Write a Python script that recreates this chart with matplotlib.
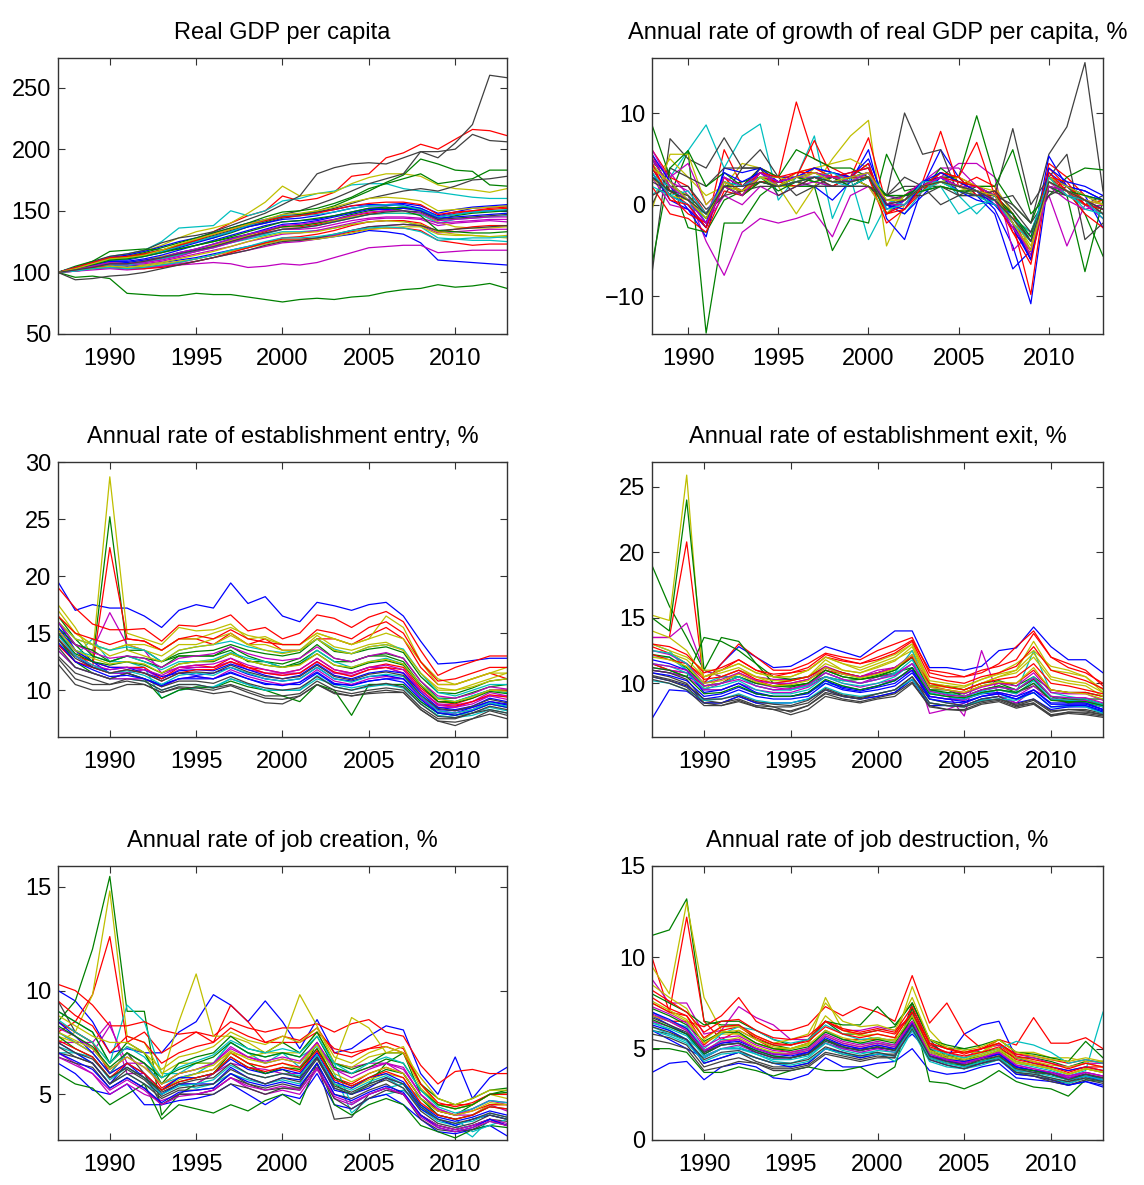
import numpy as np
import matplotlib
matplotlib.use("Agg")
import matplotlib.pyplot as plt
from matplotlib import font_manager

# --- DATA (one row per state) ---
years = list(range(1987, 2014))
years_growth = list(range(1988, 2014))

gdp_pc = [
    [100,102,104,106,105,106,108,110,112,115,118,121,124,126,126,127,129,131,134,133,131,124,110,109,108,107,106],
    [100,96,97,95,83,82,81,81,83,82,82,80,78,76,78,79,78,80,81,84,86,87,90,88,89,91,87],
    [100,103,107,111,112,115,118,122,127,133,140,146,150,162,158,160,165,178,180,193,197,204,200,208,216,215,211],
    [100,104,108,113,115,118,125,136,137,138,150,146,150,158,160,164,166,171,172,172,168,166,165,163,161,160,160],
    [100,101,103,104,103,104,105,106,107,108,107,104,105,107,106,108,112,116,120,121,122,122,116,117,118,118,118],
    [100,104,108,112,114,117,122,128,133,136,140,148,157,170,162,164,165,172,177,180,180,178,171,168,167,165,168],
    [100,104,109,113,115,118,124,128,130,133,138,143,148,155,162,180,185,188,189,188,193,198,193,205,220,260,258],
    [100,104,108,112,114,117,121,125,128,132,136,140,143,146,147,149,151,154,155,155,156,154,148,151,153,154,155],
    [100,104,107,110,111,114,117,121,125,128,132,137,141,145,147,150,154,160,166,173,179,192,188,183,182,171,170],
    [100,102,105,107,106,108,111,114,117,121,125,129,133,137,137,139,142,146,148,150,152,151,145,148,150,151,152],
    [100,103,105,107,107,109,112,115,118,121,124,127,130,133,133,134,136,139,141,142,142,137,128,127,126,126,125],
    [100,102,104,106,106,107,109,112,115,118,121,125,128,131,132,134,137,140,143,144,144,143,138,140,141,142,141],
    [100,103,105,108,108,110,113,116,119,122,126,130,134,137,138,140,142,145,147,148,148,147,141,137,136,136,137],
    [100,103,106,110,112,115,118,122,126,130,134,138,142,147,150,155,160,166,172,176,180,198,198,200,212,207,206],
    [100,103,106,109,109,111,114,118,122,126,130,134,138,141,142,143,146,149,152,152,153,152,145,147,149,150,150],
    [100,103,107,111,113,116,120,124,128,132,136,140,145,149,150,152,156,161,168,172,176,180,172,174,176,183,183],
    [100,101,103,104,103,104,106,108,111,114,117,120,124,127,127,128,130,133,135,136,136,134,126,124,122,123,123],
    [100,102,104,106,106,108,111,114,117,120,124,128,131,135,136,138,141,144,147,148,148,147,140,143,144,145,146],
    [100,101,102,103,102,103,105,107,109,112,115,118,121,124,125,127,130,134,137,138,139,138,132,133,134,135,135],
    [100,102,103,105,104,105,107,109,111,114,117,120,123,126,126,127,129,132,135,136,137,137,131,130,130,129,130],
    [100,104,107,110,111,114,117,121,125,129,133,137,140,144,146,149,152,156,160,163,166,168,166,170,175,176,178],
    [100,103,107,110,110,113,116,120,124,128,133,137,140,143,144,146,149,152,154,154,155,152,146,149,152,153,154],
    [100,105,109,117,118,119,118,119,122,125,128,131,134,137,138,140,143,147,150,152,153,150,143,146,148,149,150],
    [100,102,104,105,103,103,104,106,109,112,116,120,124,128,129,131,134,138,141,142,142,140,133,135,137,138,138],
    [100,104,107,110,111,113,117,121,125,129,133,138,142,146,146,147,149,152,154,155,154,151,145,147,149,150,151],
    [100,103,105,107,107,108,110,113,117,120,124,128,132,135,135,136,139,142,144,145,145,144,140,141,142,143,143],
    [100,102,103,105,104,106,108,111,114,117,121,125,129,132,132,133,136,139,141,142,141,139,133,131,130,129,128],
    [100,94,95,97,98,100,103,106,109,112,115,118,122,125,126,128,131,134,137,138,139,138,134,135,136,137,138],
    [100,104,106,109,108,110,112,116,119,123,127,131,135,139,140,142,145,148,151,151,152,150,144,145,146,147,148],
    [100,103,106,110,111,113,116,119,122,125,129,133,137,141,142,144,146,149,152,153,150,146,134,133,132,132,133],
    [100,104,108,112,113,115,118,122,126,131,135,139,142,145,146,148,151,154,156,157,157,155,147,149,150,152,153],
    [100,101,103,104,103,104,106,108,111,114,118,121,125,128,128,129,131,134,136,137,136,133,126,127,128,128,129],
    [100,102,105,108,107,109,112,116,119,123,127,131,134,138,139,141,143,146,149,150,150,148,142,143,144,145,145],
    [100,103,107,111,112,114,118,123,127,131,135,139,143,147,148,150,153,157,160,161,160,158,150,151,152,153,154],
    [100,102,104,107,107,109,112,115,118,121,125,129,132,135,136,138,141,144,147,149,150,149,143,144,145,146,147],
]

gdp_growth = [
    [4.5,1.5,0.5,-1.5,2.5,1.5,3.5,2,3,3.5,2.5,3,4.5,-1,0.5,2,3,2,1.5,-0.5,-4.5,-10.8,3,2,1,0.5],
    [3.5,1,5.9,-14,-2,-2,1,2.5,3,2.5,2,3,2,0,1,2,2.5,1.5,1,0,-1.5,-3,2,1.5,-1,-5.6],
    [5.5,1.5,0,-2.5,6,2,4,3,11.2,5,4,3,3.5,-1,0.5,2.5,3,3,2,1,-2,-9.8,4,2,0.5,-1],
    [1,3,5.9,8.7,4,7.5,8.8,0.5,3,7.5,-1.5,3,-3.8,0,1,2,3,1,-1,1,-1,-4,3,1,0.5,-1],
    [4.5,3.5,1,-4,-7.7,-3,-1.5,-2,-1.5,-0.8,-3.5,1,2,-1,0.5,1.5,3,4.5,4.5,3,-5,-3,1,-4.5,0,-1.5],
    [2.5,5,3,1,2,4.5,4,2,-1,2,5,7.5,9.2,-4.5,0,2,3,2,1,1,-1,-5,2,1,0,-0.5],
    [-7.5,7.2,5,4,7.3,4,4,2,2,2,2,3,2,1,2,2,2,1,1,0.5,1,-2,5.5,8.5,15.5,1.5],
    [5,2,-0.5,-3.5,4,3.5,4,2,2,2,0.5,2.5,6,-1.5,-3.8,2,6,3,1,-1,-7,-5,5.3,2,1,-2.5],
    [8.7,3,-2.5,-3,0.5,1.5,2.5,2,2,2,-5,-1.5,-2,5.5,1.5,2,3,3,9.7,3,0,-2,3,1,-7.3,0.5],
    [6,3,2,-1,2,1,3.5,3,3,7,3,3,7.3,0,1,2.5,8,2,3,2,-3,-5,4.5,3,1,0],
    [4,1,0,-1,2.5,1.5,3,2.5,3,3.5,3,3,3,0,-1,1.5,3,2.5,2,1,-1.5,-3.5,3,2,1,0],
    [5,3,4.5,0,2,1,4,2,3,3.5,3,2,3,0,1,2.5,4,4,2,0,-2,-6,2,1,0,-1],
    [-0.5,5.5,5.5,0,2,1,4,2,2,4,4.5,5,4,0,0,1.5,2,1.5,2,2,-1,-4,3,1,0,0.5],
    [0,4,3,2,4,4,6,3,1,2,3,2,2,1,3,2,0,1,1,1,8.3,0,3,5.5,-3.8,-2],
    [4,1,0,-2.5,3,2,3,3,3,4,3.5,3,5,0,-1,1,3,1.5,0.5,0,-1,-4,3,2,1.5,0.5],
    [-6.5,4,5.9,2,3.5,2,4,3,6,5,4,4,3,-1,1,1.5,4,2.5,2,2,6,-1,1,3,4,3.8],
    [2,-1,-1.5,-3,1.5,1,2.5,2.5,2,3,2,3,3,-2,-0.5,1.5,3.5,3,6.8,1,-1,-6,3,1.5,-1,-2.5],
    [3,2,1,-2,2,1,3,2,2.5,3,2.5,2.5,3.5,1,0.5,1.5,2,-1,0,0.5,-2,-5,2,1,0,-0.5],
    [3,0,-0.5,-2,1,0,2,1,2,2.5,2,2,3,1,0.5,2,3,2,1.5,1,-1,-4,2,0.5,-0.5,0],
    [3,1,0.5,-1.5,2,1.5,3,2,3.5,4,3,3,2,-1,1,1.5,2.5,3,2,1.5,-2,-5.5,2.5,1.5,0.5,-1],
    [1,2,2,-0.5,1,4,4,1,2,3,2,2,3,1,10,5.5,6,1,2,1,0,-2,1,2,0,1],
    [3.5,0.5,-0.5,-2.5,2.5,1.5,4,2.5,3,3.5,3,3.5,4,-0.5,0.5,2.5,3,2,1.5,0,-2.5,-6,3.5,2,1.5,0.5],
    [5,2,1,-1,2,2.5,3,1.5,2.5,3,3,2,3,1,1,2,3.5,2.5,1.5,1,-1,-4,2,1,0.5,-0.5],
    [4,1,-1,-2,3,1,3,2.5,3.5,4,3,3,4.5,-1,0,2,3.5,3,1,1.5,-2,-5,3,2.5,0,0.5],
    [2,1,0,-1.5,2,1.5,3,2,3,3,2.5,2,3,0.5,0,1.5,2.5,1.5,1,0,-1.5,-3,2.5,1.5,-0.5,-1],
    [6,2.5,1.5,-1,3,2,3.5,2,3,3,3,3,3.5,0,0,2,3,2,2,1,-2,-5.5,2.5,1,0.5,0],
    [4.5,2,1,-1,2,1.5,3,3,2.5,3.5,3,2.5,3,0.5,0.5,2,2.5,2,1.5,0.5,-1.5,-4.5,3,2,1,0],
    [2.5,1.5,1,-1,1,1.5,2,2,2.5,2,2,2,2,0.5,1,1,2,1.5,1,1.5,-0.5,-3,1.5,1,0.5,-1],
    [5.5,2.5,0.5,-2,3.5,2.5,3.5,2.5,3,4,3.5,3,3.5,0,-0.5,2.5,3.5,2.5,1.5,1,-2,-6,4,2.5,2,1],
    [3,1.5,0.5,-1.5,2,1,2.5,2,3,2.5,3,2.5,3,1,1,1.5,2,1.5,1.5,0.5,-1,-3.5,2,1.5,1,0.5],
    [4.5,0.5,0,-2.5,2.5,1.5,3.5,3,3.5,3.5,3,3.5,4,-1,-0.5,2,3,2.5,2,0.5,-3,-6.5,3.5,1.5,0,-0.5],
    [3.5,1,1.5,-1,2.5,2,3,2,2.5,3,3.5,2.5,3.5,-0.5,0,2.5,2.5,2,1.5,0.5,-2,-4,3,1,0.5,-1.5],
    [5,2,0.5,-2,2,1,3.5,2.5,3,3.5,3,2.5,3.5,0,0.5,2,3,2,1.5,0.5,-2.5,-5,2,1.5,0.5,-0.5],
    [4,2.5,0.5,-1.5,2.5,1.5,3,2,3,3.5,2.5,3,3.5,0.5,0.5,2,2.5,2,1.5,1,-2,-5,2.5,1.5,0.5,0],
    [3,1.5,0.5,-1,2,2,2.5,2,2.5,3,2.5,2.5,3,0,0.5,2,2.5,2,1.5,0.5,-1.5,-4,2.5,1.5,0.5,-0.5],
]

entry_rate = [
    [19.5,17,17.5,17.2,17.2,16.5,15.5,17,17.5,17.2,19.4,17.6,18.2,16.5,16,17.7,17.4,17,17.5,17.7,16.5,14.3,12.3,12.4,12.6,12.8,12.8],
    [16,14,12.5,25.2,13.5,13.5,12.5,13,13,13,13.5,12.5,12.5,12,12.5,13.5,12.5,12.5,13,13,12.5,10.5,9,9,9.5,10,10],
    [15,13.5,12,22.5,14.5,14.3,13.5,14.5,14.5,14,15,14,14.5,13.5,13.5,14.5,14.5,14,14.8,15.5,14.5,12,10.5,10.5,11,11.5,11],
    [14,13,14.5,12.5,12.5,12,9.3,10,10.2,10.3,11,10.5,10,10,10,11,10.5,10.2,10.5,10.5,10.5,9,8,7.8,8,8.5,8.2],
    [15,14,13.5,16.8,14,13.5,11.5,12,12,12,12.5,12,11.5,11.5,11.5,12.5,11.5,11.5,12,12,11.5,9.5,8.5,8.5,9,9.5,9.5],
    [17.5,15.5,13,28.7,15,14.5,14,15.5,15.2,15.3,15.8,14.5,14.7,14,14,15,14.5,14,14.5,16.5,15.5,12.5,11,10.5,11,11.5,12],
    [12.3,10.5,10,10,10.5,10.5,9.8,10.2,10,9.7,9.9,9.4,8.9,8.8,9.5,10.5,9.8,9.5,9.7,9.8,9.8,8.3,7.3,6.9,7.5,7.9,7.5],
    [16,13.5,12.5,11.5,11.5,11,10.5,11,11,11,11.5,11,10.5,10.5,10.5,11.5,10.5,10.5,10.8,11,11,9.5,8,8,8.5,9,8.8],
    [14.5,12.5,11.5,11,11.5,11,9.3,10,10.3,10.2,10.8,10.3,10,9.5,9,10.5,10,7.8,10.5,10.5,10.5,9,8,7.8,8.2,8.8,8.5],
    [19,17.2,15.8,15.3,15.3,15.4,14.3,15.7,15.6,16,16.6,15.2,15.5,14.5,15,16.6,16.3,15.5,16.4,16.9,16,13.5,11.3,12,12.5,13,13],
    [13.5,12,11.5,11,11,10.8,10,10.5,10.5,10.2,11,10.5,10,10,10,11.3,10.3,10,10.3,10.5,10.2,8.8,7.8,7.6,7.8,8.3,8],
    [14,12.5,12,11.5,11.5,11.8,11,11.8,12,12,12.5,11.8,11.5,11.3,11.5,12.5,11.5,11.3,11.8,12,11.5,10,8.8,8.7,9,9.8,9.5],
    [16.5,15,14,13.5,14,13.5,13,14,14,14.5,15,14,14,13.5,13.5,14.8,13.8,13.5,14,14.2,13.5,11.5,10,10,10.5,11,11.5],
    [13,11.5,11,10.5,11,10.8,10,10.5,10.5,10.2,10.5,10,9.5,9.5,9.7,10.8,10,9.7,10,10.2,10,8.5,7.5,7.5,8,8.3,8],
    [15,13,12,11.8,12,11.5,11,11.7,11.8,11.7,12.3,11.8,11.3,11,11.3,12.3,11.3,11,11.5,11.7,11.5,9.8,8.5,8.3,8.6,9.3,9],
    [15.5,14,13.5,12.5,13,12.5,12,13,13,13,13.8,13,12.5,12.3,12.8,14,12.8,12.5,13,13.2,12.8,10.8,9.3,9.3,9.8,10.3,10.5],
    [14.5,13,12.5,12,12,12,11,12,12.2,12,12.8,12,11.8,11.5,11.8,12.8,11.8,11.5,12,12.3,12,10.2,9,8.8,9.3,10,10],
    [15,13.5,13,12.5,13,12.5,11.8,12.5,12.5,12.7,13.3,12.8,12.5,12,12.3,13.5,12.5,12,12.5,12.8,12.3,10.5,9.3,9,9.5,10,9.8],
    [13.5,12,11.5,11,11,11,10.3,11,11.2,11,11.8,11.2,10.8,10.5,10.7,11.8,10.8,10.5,11,11.2,11,9.3,8.2,8,8.3,9,8.7],
    [17,15,14,13.5,14,14,13.5,14.5,14.5,15,15.5,14.8,14.5,14,14,15,14.5,14,14.5,15,14.5,12.5,10.5,10.5,11,11.5,11.5],
    [12.8,11,10.5,10.5,10.8,10.5,9.8,10.3,10.2,10,10.4,9.8,9.3,9.2,9.5,10.5,9.7,9.5,9.8,10,9.8,8.3,7.3,7.2,7.5,8.2,7.8],
    [15.5,13.5,12.5,12,12,11.8,11.2,11.5,11.3,11.5,12,11.4,11,10.8,11,12,11,10.8,11.2,11.3,11,9.5,8.3,8.2,8.5,9,8.7],
    [16.5,14.5,13,12.5,13,12.8,12.5,13.2,13.4,13.5,14,13.5,13.2,13,13.3,14.5,13.4,13.2,13.6,13.8,13.3,11.2,9.8,9.7,10.2,10.8,11],
    [14,12.5,12,11.5,11.8,11.5,10.8,11.5,11.8,11.8,12.5,12,11.5,11.3,11.5,12.5,11.6,11.2,11.8,12,11.8,10,8.7,8.6,9,9.6,9.4],
    [16,14.5,14,13.5,13.8,13.5,12.5,13.5,13.8,14,14.3,13.8,13.5,13.3,13.5,14.5,13.6,13.2,13.8,14,13.6,11.5,9.8,9.5,10,10.5,10.5],
    [15,13,12.2,11.8,12,11.8,11.3,12,12.2,12.3,12.8,12.2,11.8,11.5,11.8,12.8,11.8,11.5,12,12.2,11.8,10,8.7,8.5,8.8,9.5,9.2],
    [16,14.5,14,13,13.5,13,12.5,13.5,13.8,14,14.8,14,13.5,13.2,13.5,14.5,13.5,13.2,13.8,14,13.5,11.5,10.2,10,10.3,10.8,11],
    [13.8,12,11.5,11,11.5,11,10.3,10.8,10.8,10.6,11.2,10.6,10.2,10,10.2,11.2,10.3,10,10.4,10.6,10.3,8.8,7.7,7.6,8,8.6,8.3],
    [14.2,12.5,11.8,11.2,11.3,11,10.4,11,11.2,11,11.6,11,10.6,10.4,10.7,11.6,10.6,10.4,10.8,11,10.7,9.2,8,7.8,8.2,8.8,8.5],
    [15,13.2,12.5,12.2,12.5,12.2,11.5,12.3,12.5,12.5,13.2,12.6,12.2,12,12.3,13.2,12.2,11.9,12.4,12.6,12.2,10.4,9,8.9,9.3,9.9,9.7],
    [16.5,15,14.5,14,14.5,14.3,13.5,14.5,14.8,14.5,15.3,14.5,14.2,14,14,15.3,15,14.5,15.5,16,15,12.5,10.8,11,11.5,12,12],
    [14.8,13,12.2,11.5,11.7,11.3,10.5,11.3,11.5,11.3,12,11.5,11,10.8,11,12,11,10.7,11.2,11.4,11.2,9.5,8.2,8,8.3,8.9,8.6],
    [16,14,13.3,12.8,13,12.8,12,12.8,13,13.2,13.8,13.2,12.8,12.6,12.8,13.8,12.8,12.5,13,13.3,12.8,10.8,9.5,9.3,9.7,10.3,10.1],
    [15.3,13.5,12.8,12.3,12.5,12.3,11.5,12.3,12.5,12.6,13.2,12.6,12.2,12,12.2,13.2,12.2,12,12.5,12.7,12.3,10.5,9.2,9,9.4,10,9.9],
    [14.5,12.8,12,11.5,11.8,11.5,10.8,11.5,11.6,11.5,12.2,11.6,11.2,11,11.2,12.2,11.2,10.9,11.4,11.6,11.3,9.6,8.4,8.2,8.6,9.2,8.9],
]

exit_rate = [
    [11,10.8,10.5,10,11.5,12.8,12,11.2,11.3,12,12.8,12.4,12,13,14,14,11.2,11.2,11,11.3,12.5,12.7,14.3,12.8,11.8,11.8,10.8],
    [19,15.9,13.5,11,10.5,10.5,10,9.8,9.8,10,10.5,10.2,10.3,10.5,10.8,11.2,9.5,9.5,9,9.5,9.8,9.3,9.8,8.8,8.6,8.5,8.2],
    [13.5,13.5,20.8,10,11.5,13,12,11,11,11.5,12.3,12,11.8,12.5,13,13.5,10.8,10.5,10.5,10.8,11.5,12.8,14,12,11.2,10.8,10],
    [12,12,11,9.5,9.5,10,9.2,9,9,9.3,10,9.8,9.5,9.8,10.3,11,8.8,8.5,8.3,8.8,9,8.8,9.3,8.2,8.2,8.3,7.8],
    [13.5,13.5,14.6,11,10.5,11,10.5,10.3,10.3,10.5,11.3,10.8,10.5,11,11.2,12,7.7,8,8.5,9,9.3,9,9.8,8.8,8.7,8.7,8.3],
    [15.2,14.8,25.9,9.5,10.5,11,10.5,10,10.2,10.5,11.8,11,10.8,11.3,11.8,12.5,10,9.8,9.5,10,10.5,11,13.2,11,10.8,10.5,9.3],
    [10.8,10.5,10,8.5,8.5,9,8.5,8.2,7.8,8.3,9.3,9,8.8,9,9.3,10.3,8.5,8.3,8.2,8.7,8.8,8.3,8.5,7.5,7.8,7.8,7.6],
    [7.3,9.5,9.4,8.5,8.5,9,8.5,8.5,8.5,8.8,9.5,9,8.8,9,9.3,10.3,8.3,8.3,8.3,8.8,9,8.5,8.8,8,8.2,8.2,7.8],
    [15,14,24,11,13.5,13.2,11.5,10.5,10.3,10.5,11.2,10.8,10.5,10.8,11.2,12,9.8,9.8,9.5,10,10.2,9.8,10.5,9.5,9.3,9.3,9],
    [12.8,12.3,11.5,10.5,11,11.8,11,10.5,10.8,11,12,11.7,11.5,12,12.5,13.3,11,10.8,10.5,11,11.3,11.8,13.8,12,11.5,11,9.8],
    [13,12.5,11,10,10.5,10.5,9.8,9.5,9.5,9.8,10.5,10.2,10,10.3,10.8,12.5,9.3,9,8.8,9.3,9.5,9.3,12.5,9.3,9,8.8,8.3],
    [11,10.8,10.5,9.5,10,10.5,10,9.7,9.5,10,10.8,10.3,10,10.5,10.7,11.5,9.5,9.2,7.5,12.5,9,8.5,9.5,8.8,8.5,8.5,8],
    [13,12.5,12,11,11,11.5,10.8,10.5,10.5,11,12,11.5,11,11.5,12,13,10,9.8,9.7,10.3,10.8,11.5,12.5,11.3,11,10.5,9.5],
    [11,10.8,10.3,8.7,8.5,8.8,8.3,8.2,8.2,8.5,9.5,9,8.8,9.2,9.5,10.5,8.8,8.5,8.3,8.8,9,8.3,8.7,7.8,8,8,7.7],
    [10.5,10.2,9.8,8.8,9,9.5,9,8.8,8.8,9,10,9.5,9.3,9.5,9.8,10.8,9,8.8,8.8,9.2,9.3,9,9.5,8.5,8.5,8.5,8],
    [11.5,11,10.5,13.5,13.2,12.5,11.5,10,9.8,10,11,10.5,10.3,10.5,11,12,9.5,9.3,9.2,9.8,10,9.5,10.3,9,8.5,8.8,8.8],
    [11.5,11,10.8,9.8,10,10.8,10.2,9.8,10,10.3,11,10.7,10.5,10.8,11.2,12,9.8,9.5,9.3,9.8,10,10,11,9.5,9.3,9.3,9],
    [10.2,10,9.5,8.7,8.8,9.2,8.7,8.5,8.5,8.8,9.7,9.2,9,9.2,9.5,10.3,8.5,8.3,8.2,8.7,8.8,8.7,9.3,8.2,8.3,8.2,7.7],
    [11.2,11,10.8,9.5,9.5,10,9.5,9.3,9.3,9.7,10.5,10,9.7,10,10.3,11,9,8.8,8.7,9.3,9.5,9.2,10,8.8,8.8,8.7,8.2],
    [12.5,12.3,11.8,10.5,10.8,11.2,10.5,10.2,10.2,10.5,11.5,11,10.8,11.2,11.7,12.8,9.8,9.7,9.5,10,10.5,10.8,12,10.3,10,9.8,9],
    [10.5,10.2,9.7,8.5,8.3,8.7,8.2,8,7.6,8,9,8.7,8.5,8.8,9,10,8.3,8,8,8.5,8.7,8.2,8.5,7.6,7.8,7.7,7.5],
    [11.8,11.5,11,9.3,9.5,10,9.3,9,9,9.3,10.2,9.7,9.5,9.8,10.2,11.2,9,8.8,8.6,9,9.2,8.8,9.5,8.4,8.4,8.4,8],
    [12.2,12,11.2,9.8,10,10.5,10,9.8,9.7,10,11,10.5,10.3,10.6,11,12,9.5,9.2,9,9.5,9.8,9.5,10.3,9,8.8,8.8,8.4],
    [12.2,11.8,11.5,10.3,10.5,11,10.3,10,10.2,10.5,11.2,10.8,10.5,10.8,11.2,12,10,9.7,9.5,10,10.3,10.5,11.5,10,9.8,9.5,9.2],
    [11.5,11.3,10.8,9.6,9.8,10.2,9.5,9.2,9.2,9.5,10.5,10,9.8,10,10.5,11.5,9.2,9,8.8,9.2,9.5,9.2,10.2,8.8,8.7,8.6,8.2],
    [12.5,12.2,11.5,10,10.3,10.8,10.2,10,10,10.3,11.2,10.7,10.5,10.8,11.2,12.2,9.7,9.5,9.2,9.7,10,9.8,10.8,9.3,9.2,9.2,8.7],
    [14,13.5,12.5,10.5,11,11.5,10.8,10.5,10.5,11,12,11.5,11.2,11.7,12.2,13,10.2,10,9.8,10.3,10.7,11,12.3,10.5,10.2,10,9.3],
    [10.3,10,9.5,8.3,8.3,8.6,8.2,8,7.9,8.3,9.2,8.8,8.6,8.9,9.2,10.1,8.2,8,7.9,8.4,8.6,8.1,8.4,7.5,7.7,7.6,7.4],
    [10.8,10.6,10.2,9,9.2,9.7,9.2,9,9,9.2,10.2,9.6,9.4,9.7,10,11,8.8,8.6,8.5,9,9.2,8.8,9.3,8.2,8.3,8.3,7.9],
    [11.2,11,10.5,9.2,9.3,9.8,9.2,9,9,9.3,10.3,9.8,9.5,9.8,10.2,11.2,9.2,9,8.9,9.3,9.5,9.3,10,8.7,8.6,8.6,8.3],
    [13,12.8,12.2,10.8,11.2,11.8,11,10.7,10.8,11.2,12.2,11.8,11.5,11.8,12.3,13.2,10.5,10.2,10,10.5,10.8,11.3,12.8,11,10.6,10.2,9.6],
    [12.5,12.3,11.5,9.8,10,10.5,9.8,9.5,9.5,9.8,10.8,10.3,10,10.3,10.7,11.8,9.4,9.2,9,9.4,9.7,9.5,10.5,9,8.9,8.8,8.4],
    [11.5,11.3,11,9.8,10,10.3,9.8,9.5,9.6,9.9,10.8,10.3,10,10.3,10.6,11.5,9.4,9.1,9,9.5,9.7,9.5,10.4,9,8.9,8.9,8.5],
    [12,11.8,11.3,10,10.2,10.7,10.1,9.8,9.9,10.2,11.2,10.7,10.4,10.7,11.1,12.2,9.7,9.5,9.3,9.8,10.1,10,11.2,9.5,9.3,9.2,8.8],
    [10.6,10.3,9.9,8.8,8.8,9.1,8.6,8.4,8.3,8.7,9.6,9.1,8.9,9.2,9.5,10.5,8.5,8.3,8.2,8.6,8.8,8.4,8.8,7.9,8,7.9,7.6],
]

job_creation = [
    [10,9.5,8.5,7,7.2,7,7,8,8.5,9.8,9.3,8.5,9.5,8.5,7.2,8.6,7,7.2,7.8,8.3,8.1,6,5,6.8,4.8,5.8,6.3],
    [8.5,9.5,12,15.5,9,9,4,5,5.5,6,7,6.5,6,6.2,5.8,7.5,5.5,5,5.5,6.5,7,5,4.2,4,4.5,5,5.2],
    [8,8.5,9.8,12.6,7.5,8,7,7.5,8,7.5,9.3,8.5,7.5,7.5,7.5,8,7.2,7,7.2,7.5,7.2,5.5,4.5,4.5,4.5,5,5],
    [9,8.5,8,6.5,9.3,8.5,6,6,6.5,6.5,7.5,7,6.5,7,6.3,7.5,6,4.1,4.8,5,5.2,4.5,3.8,3.5,2.95,3.8,3.5],
    [7.5,7.5,7.5,8.5,6,6,5,5.5,5.5,6,6.5,6.3,6.2,6,6,7,6.5,6.3,6.5,6.5,6,4.8,4.2,4,4,4.5,4.2],
    [7.5,8,9.8,14.8,7.8,7.5,6,6.5,6.5,6.5,7,6.5,6.3,6.5,6.2,7.5,5.5,5.3,5.7,6,5.8,4.5,4,3.8,4,4.5,4.5],
    [9.5,8,7.5,6,7,6,4.5,5,5,5.2,5.8,5.5,5.2,5.3,5.3,6.5,3.8,3.9,5,5.3,5,4,3.5,3.3,3.5,3.8,3.7],
    [6.5,6,5.2,5,5.5,4.5,4.5,4.7,4.8,5,5.5,5,4.5,5,4.8,6,4.5,4.3,4.8,5,4.5,3.8,3.2,3.1,3.3,3.5,3],
    [6,5.5,5.3,4.5,5,5.5,3.8,4.5,4.3,4.1,4.5,4.2,4.7,5,4.5,6.5,4.5,4,4.5,4.8,4.5,3.5,3.2,2.9,3.3,3.5,3.4],
    [10.3,10,9.3,8.3,8.3,8.5,8.1,7.9,8,7.8,8.5,8.2,8,8.2,8.2,8.4,8,8.4,8.6,8,7.8,6.4,5.5,6.1,6.2,6,6],
    [7,7,6.5,5.5,6,5.5,5,5.5,5.3,5.5,6,5.7,5.5,5.7,5.5,6.8,5.3,5,5.5,5.8,5.3,4.3,3.7,3.5,3.8,4,3.8],
    [8,7.5,7,8.3,6.5,6.5,5.5,6,6.2,6.5,7.2,6.8,6.5,6.7,6.5,7.5,6.2,6,6.3,6.5,6.3,5,4.3,4,4.3,4.7,4.5],
    [8.5,8,7.5,6.5,7.3,7,5.8,8.5,10.8,7.8,7.8,7.5,7,7,7,8,6.5,6.3,6.8,7,7.3,5.5,4.5,4.3,4.5,5,4.8],
    [7,6.8,6.5,5.5,6,5.5,4.8,5.2,5.2,5.3,6,5.5,5.3,5.5,5.3,6.5,5,4.8,5.2,5.5,5,4,3.5,3.3,3.5,3.8,3.5],
    [7.5,7,6.5,5.5,6.5,5.8,5,5.5,5.5,5.5,6.3,5.8,5.5,5.8,5.7,6.8,5.2,5,5.3,5.8,5.5,4.3,3.8,3.5,3.8,4,3.8],
    [9,8.5,8,6.5,7.5,7,5.5,6.5,6.8,7,7.8,7.2,7,7.5,7,8,6.5,6.2,6.5,7,7,5.5,4.8,4.5,4.8,5.2,5.3],
    [8.5,8,7.5,6,7,6.5,5.3,5.8,6,6.2,7,6.5,6.3,6.5,6.3,7.2,5.8,5.5,6,6.3,6,4.8,4.2,4,4.2,4.5,4.5],
    [8,7.5,7,6,7,6.5,5.5,5.8,6,6.5,7.5,7,6.8,7,6.8,7.3,6.5,4.5,5,5.3,5.5,4.8,4,3.8,3.2,3.5,3.8],
    [7,6.5,6,5,5.5,5,4.7,5,5,5.2,5.8,5.3,5,5.2,5,6.2,4.8,4.5,5,5.3,5,4,3.5,3.3,3.5,3.8,3.6],
    [7.8,7.5,7,6,6.5,6,5.2,5.7,6,6.2,7,6.8,7,7.5,9.8,8.3,6.5,8.7,8.2,7,7,5.3,4.5,4.3,4.5,5,5],
    [6.8,6.5,6.3,5.3,5.8,5.3,4.5,5,5,5,5.5,5.3,5,5.3,5.2,6.3,4.8,4.3,4.8,5.2,5,3.8,3.3,3.2,3.3,3.7,3.5],
    [8.5,7.8,7,6,6.5,6,5.2,5.8,5.8,6,6.7,6.2,6,6.2,6,7,5.6,5.3,5.8,6,5.6,4.5,3.9,3.7,3.9,4.2,4],
    [7.8,7.2,6.8,5.8,6.3,5.8,5.2,5.6,5.8,6,6.8,6.3,6,6.3,6.2,7.2,5.8,5.4,5.8,6.2,6,4.8,4,3.8,4,4.4,4.3],
    [9.5,8.8,8.3,7,7.8,7.5,6.5,7,7.3,7.5,8.2,7.8,7.5,7.8,7.6,8.2,7,6.8,7.2,7.3,7,5.5,4.6,4.4,4.6,5,5],
    [7.3,7,6.8,5.7,6.3,5.8,5,5.4,5.5,5.7,6.4,6,5.8,6,5.9,6.9,5.5,5.2,5.6,5.9,5.5,4.4,3.8,3.6,3.7,4.1,3.9],
    [8.2,7.8,7.2,6.2,6.8,6.3,5.5,6,6.2,6.5,7.3,6.8,6.6,6.8,6.6,7.5,6.2,5.8,6.2,6.5,6.2,5,4.3,4,4.3,4.7,4.6],
    [8.8,8.3,7.8,7.5,7.5,7,6.2,6.8,7,7.3,8,7.6,7.4,7.8,7.5,8.2,6.8,6.5,7,7.3,7,5.8,4.8,4.5,4.8,5.2,5.2],
    [7.3,6.8,6.5,5.5,6.2,5.7,4.9,5.3,5.4,5.5,6.2,5.8,5.5,5.8,5.6,6.7,5.3,5,5.4,5.7,5.3,4.2,3.6,3.4,3.6,4,3.8],
    [7,6.6,6.2,5.3,5.8,5.3,4.6,5.1,5.2,5.3,6,5.6,5.4,5.6,5.4,6.5,5,4.7,5.1,5.4,5.1,4,3.4,3.2,3.4,3.8,3.5],
    [8.3,7.8,7.3,6.3,7,6.5,5.8,6.2,6.5,6.8,7.5,7,6.8,7,6.8,7.8,6.3,6,6.3,6.7,6.5,5.2,4.5,4.3,4.5,5,5.1],
    [7.6,7.2,6.8,5.8,6.5,6,5.2,5.6,5.8,6,6.8,6.3,6.1,6.3,6.1,7.1,5.7,5.4,5.8,6.1,5.8,4.6,4,3.8,4,4.4,4.3],
    [8.6,8,7.5,6.5,7.3,6.8,5.8,6.3,6.6,6.9,7.6,7.2,7,7.2,7,7.8,6.5,6,6.5,6.8,6.5,5.2,4.4,4.1,4.3,4.7,4.6],
    [6.8,6.4,6,5.2,5.7,5.2,4.5,4.9,5,5.2,5.8,5.4,5.2,5.4,5.2,6.3,4.9,4.6,5,5.3,5,3.9,3.4,3.2,3.4,3.7,3.5],
    [8,7.6,7.2,6.2,6.8,6.3,5.5,6,6.2,6.4,7.1,6.7,6.5,6.7,6.5,7.4,6,5.6,6,6.3,6,4.8,4.2,4,4.2,4.6,4.5],
    [7.5,7,6.7,5.8,6.3,5.8,5.1,5.5,5.7,5.8,6.5,6,5.8,6,5.8,6.8,5.4,5.1,5.5,5.8,5.5,4.4,3.8,3.6,3.8,4.1,3.9],
]

job_destruction = [
    [3.7,4.2,4.3,3.3,4,4.2,4,3.4,3.3,3.6,4.5,4,4,4.2,4.3,5,3.8,3.6,3.7,4,4.2,3.4,3.3,3.2,3,3.2,3],
    [11.2,11.5,13.2,6.5,6.3,6.3,5.5,5.2,5,5.3,6.5,5.8,5.8,6,6.2,7.5,5.5,5,5,4.8,5,4.5,4.5,4.3,4,4.3,4.3],
    [10,7,12.2,6.5,5.5,6,5.5,5,4.8,5,6,5.5,5.5,5.5,5.5,6.5,5.2,4.8,4.8,5,5.2,4.5,4.3,4,3.8,4,4],
    [6.5,6,5.5,4.8,5.5,5.5,5,4.8,4.7,5,6,5.5,5.3,5.3,5.2,6.5,4.8,4.5,4.3,4.5,4.8,4.2,4,3.8,3.5,3.8,7],
    [8.8,7.5,7.5,5.8,6,7.3,6.7,6.3,5.5,5.5,6.5,6,6,6.2,6,6.8,5,4.8,4.5,5,5.2,4.7,4.5,4.2,4,4.2,4.2],
    [9.5,8,13,7.8,6,5.8,5.3,5,5,5.2,7.8,6,5.8,5.5,5.5,8.4,6,5,4.8,4.8,5.5,4.8,4.8,4.5,4.5,4.3,4.3],
    [6,5.8,5.5,4.2,4.5,4.8,4.3,4,4,4.2,5,4.7,4.5,4.7,4.7,7.2,5.3,4.7,4.3,4.5,4.8,3.8,3.7,3.3,3.2,3.5,3.3],
    [6,5.5,5,4.5,5,5,4.8,4.5,4.5,4.8,5.5,5,5,5,5,5.8,4.8,4.5,5.8,6.3,6.5,4.5,4.2,4,3.8,4,3.8],
    [5,5,4.8,3.7,3.7,4,3.8,3.5,3.8,4,3.8,3.8,4,3.4,4,7.3,3.2,3.1,2.8,3.2,3.8,3.2,2.9,2.8,2.4,3.3,3.2],
    [6.8,6.5,6.5,6.2,6.8,7.8,6.5,6,6,6.3,7.3,6.8,7.3,7,6.5,9,6.4,7.5,5.8,5,5.5,5.2,6.7,5.3,5.3,5.6,5],
    [6.2,5.8,5.4,4.5,5,5,4.7,4.3,4.2,4.5,5.3,5,4.8,4.8,4.3,6,4.5,4.2,4,4.3,4.5,4,3.8,3.6,3.3,3.5,3.3],
    [7,6.5,6,4.8,5.3,5.5,5,4.7,4.7,4.8,5.5,5.2,5,5.2,5,6.2,4.5,4.3,4.2,4.5,4.8,4,3.8,3.6,3.4,3.6,3.4],
    [7.5,7,6.5,5.3,5.8,5.8,5.3,5,5,5.3,6.8,6,5.7,5.8,5.6,7,5,4.7,4.5,4.8,5.3,4.5,4.3,4.1,4,4.2,4],
    [5.5,5.3,5,3.8,4,4.3,4.2,3.8,3.8,4,4.7,4.5,4.3,4.5,4.5,7.5,5.5,4.5,4,4.2,4.5,3.6,3.5,3.2,3,3.3,3.1],
    [6.3,6,5.5,4.2,4.5,4.8,4.5,4.2,4,4.2,5,4.8,4.5,4.7,4.6,6.3,4.4,4.1,3.9,4.2,4.4,3.6,3.5,3.3,3,3.2,2.9],
    [8,7.5,7,6.3,6.5,6.5,6,5.5,5.2,5.5,6.5,6.3,6.3,7.3,6.3,7.5,5.5,5.2,5,5.2,5.5,4.8,4.7,4.5,4.3,5.4,4.5],
    [7.5,7,6.8,5.2,6,6.2,5.6,5.2,5.2,5.5,6.5,6,5.8,6,5.8,7,5.3,5,4.7,5,5.3,4.7,4.6,4.4,4.2,4.4,4.2],
    [7,6.5,6.2,5,5.8,6.2,6,5.5,5.3,5.5,6.3,5.8,5.5,5.6,5.4,6.8,5,4.7,4.5,4.7,5,5.4,5.2,4.8,4.2,4.4,4.2],
    [6.5,6.2,5.8,4.6,5,5.2,4.8,4.5,4.5,4.7,5.3,5,4.8,5,4.8,6,4.6,4.3,4.2,4.4,4.7,4,3.8,3.7,3.5,3.7,3.5],
    [8.5,7.8,7.2,5.5,6.2,6.2,5.7,5.3,5.5,5.8,7.5,6.5,6.2,6.3,6,7.8,5.5,5.1,4.9,5.1,5.5,4.8,4.6,4.4,4.3,4.5,4.3],
    [5.8,5.6,5.2,4,4.3,4.5,4.2,3.9,3.9,4.1,4.8,4.6,4.4,4.6,4.5,7,5,4.4,4.1,4.3,4.5,3.7,3.5,3.3,3.1,3.4,3.2],
    [6.8,6.3,5.8,4.7,5.2,5.3,4.9,4.6,4.5,4.7,5.5,5.1,4.9,5.1,4.9,6.3,4.6,4.3,4.2,4.5,4.7,4,3.8,3.6,3.3,3.5,3.2],
    [7.2,6.8,6.3,5.4,5.9,5.9,5.3,5,4.9,5.1,5.9,5.5,5.3,5.5,5.3,6.7,4.9,4.6,4.4,4.6,4.9,4.3,4.1,3.9,3.6,3.9,3.7],
    [7.8,7.2,6.8,5.6,6.2,6.3,5.7,5.3,5.2,5.4,6.2,5.8,5.6,5.8,5.6,7,5.1,4.8,4.6,4.8,5.1,4.4,4.2,4,3.7,4,3.8],
    [6,5.7,5.3,4.3,4.7,4.8,4.5,4.2,4.1,4.3,5,4.7,4.6,4.7,4.6,6,4.3,4,3.9,4.1,4.4,3.7,3.6,3.4,3.1,3.4,3.2],
    [7.3,6.9,6.4,5.1,5.6,5.7,5.2,4.9,4.8,5,5.8,5.4,5.2,5.4,5.2,6.5,4.7,4.4,4.3,4.5,4.8,4.1,3.9,3.7,3.5,3.7,3.5],
    [6.8,6.5,6.1,4.9,5.4,5.6,5.1,4.8,4.7,4.9,5.7,5.3,5.1,5.3,5.1,6.4,4.8,4.5,4.3,4.6,4.9,4.2,4.1,3.9,3.6,3.9,3.7],
    [6.2,5.9,5.5,4.4,4.8,4.9,4.5,4.2,4.2,4.4,5.1,4.8,4.6,4.8,4.6,6.1,4.4,4.1,3.9,4.2,4.4,3.7,3.6,3.4,3.2,3.4,3.2],
    [7,6.6,6.1,4.9,5.3,5.4,5,4.7,4.6,4.8,5.6,5.2,5,5.2,5,6.4,4.6,4.4,4.3,4.5,4.7,4,3.8,3.7,3.4,3.6,3.3],
    [6.6,6.2,5.8,4.7,5.2,5.3,4.9,4.6,4.5,4.7,5.5,5.1,4.9,5.1,4.9,6.2,4.5,4.2,4.1,4.3,4.6,3.9,3.8,3.6,3.3,3.6,3.4],
    [8.2,7.6,7,5.9,6.5,6.6,6,5.6,5.5,5.7,6.5,6.1,5.9,6.1,5.9,7.3,5.3,5,4.8,5,5.3,4.6,4.4,4.2,3.9,4.2,4],
    [6.4,6.1,5.7,4.6,5,5.1,4.7,4.4,4.4,4.6,5.3,4.9,4.7,4.9,4.8,6.2,4.5,4.2,4,4.3,4.5,3.8,3.7,3.5,3.3,3.5,3.3],
    [6.9,6.5,6,4.9,5.4,5.5,5,4.7,4.7,4.9,5.7,5.3,5.1,5.3,5.1,6.5,4.7,4.4,4.2,4.5,4.8,4.1,3.9,3.7,3.4,3.7,3.5],
    [7.6,7.1,6.6,5.3,5.9,6,5.5,5.1,5,5.2,6,5.6,5.4,5.6,5.4,6.8,4.9,4.6,4.4,4.7,5,4.3,4.1,3.9,3.6,3.9,3.7],
    [6.7,6.3,5.9,4.8,5.2,5.3,4.8,4.5,4.5,4.7,5.4,5.1,4.9,5.1,4.9,6.3,4.6,4.3,4.1,4.4,4.6,3.9,3.7,3.6,3.3,3.6,3.4],
]

titles = [
    "Real GDP per capita",
    "Annual rate of growth of real GDP per capita, %",
    "Annual rate of establishment entry, %",
    "Annual rate of establishment exit, %",
    "Annual rate of job creation, %",
    "Annual rate of job destruction, %",
]

# old MATLAB colour order: b g r c m y k
matlab_colors = ["#0000ff", "#008000", "#ff0000", "#00bfbf", "#bf00bf", "#bfbf00", "#404040"]

# --- STYLE ---
available = {f.name for f in font_manager.fontManager.ttflist}
if "Liberation Sans Narrow" in available:
    plt.rcParams["font.family"] = "Liberation Sans Narrow"
    fsize = 20
else:
    plt.rcParams["font.family"] = "Liberation Sans"
    fsize = 17

W, H = 1144, 1185
fig = plt.figure(figsize=(W / 100, H / 100), dpi=100)


def box(left, top, right, bottom):
    return [left / W, 1 - bottom / H, (right - left) / W, (bottom - top) / H]


panels = [
    (gdp_pc, years, box(58, 58, 507, 334), (50, 274), [50, 100, 150, 200, 250], (1987, 2013)),
    (gdp_growth, years_growth, box(652, 58, 1103, 334), (-14.1, 16), [-10, 0, 10], (1988, 2013)),
    (entry_rate, years, box(58, 462, 507, 737), (5.9, 30), [10, 15, 20, 25, 30], (1987, 2013)),
    (exit_rate, years, box(652, 462, 1103, 737), (5.9, 26.9), [10, 15, 20, 25], (1987, 2013)),
    (job_creation, years, box(58, 866, 507, 1140), (2.8, 16), [5, 10, 15], (1987, 2013)),
    (job_destruction, years, box(652, 866, 1103, 1140), (0, 15), [0, 5, 10, 15], (1987, 2013)),
]

for (series, x, rect, ylim, yticks, xlim), title in zip(panels, titles):
    ax = fig.add_axes(rect)
    for i, row in enumerate(series):
        ax.plot(x, row, color=matlab_colors[i % 7], lw=0.9)
    ax.set_xlim(*xlim)
    ax.set_ylim(*ylim)
    ax.set_xticks([1990, 1995, 2000, 2005, 2010])
    ax.set_yticks(yticks)
    ax.tick_params(direction="in", length=5, width=0.8, top=True, right=True,
                   labelsize=fsize, color="#333333")
    ax.tick_params(axis="x", pad=10)
    ax.tick_params(axis="y", pad=5)
    for s in ax.spines.values():
        s.set_linewidth(1.0)
        s.set_color("#333333")
    ax.set_title(title, fontsize=fsize, pad=14)

fig.savefig("out.png", dpi=100)
